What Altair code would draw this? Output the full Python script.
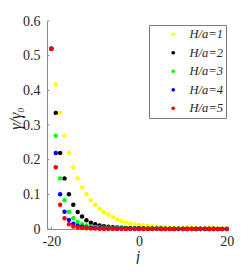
import altair as alt
import pandas as pd

j_values = list(range(-20, 21))
series_labels = ["H/a=1", "H/a=2", "H/a=3", "H/a=4", "H/a=5"]
series_colors = ["#ffff00", "#000000", "#00ff00", "#0000ff", "#ff0000"]

gamma_h1 = [0.520, 0.417, 0.335, 0.269, 0.219, 0.178, 0.146, 0.120, 0.100, 0.083,
            0.070, 0.058, 0.048, 0.041, 0.034, 0.028, 0.023, 0.019, 0.016, 0.0135,
            0.0116, 0.0100, 0.0088, 0.0078, 0.0069, 0.0061, 0.0055, 0.0049, 0.0044, 0.0040,
            0.0036, 0.0033, 0.0030, 0.0028, 0.0025, 0.0023, 0.0021, 0.0020, 0.0018, 0.0017,
            0.0016]
gamma_h2 = [0.520, 0.335, 0.219, 0.146, 0.100, 0.070, 0.049, 0.036, 0.025, 0.018,
            0.014, 0.010, 0.0080, 0.0065, 0.0053, 0.0044, 0.0037, 0.0031, 0.0027, 0.0023,
            0.0020, 0.0018, 0.0016, 0.0014, 0.0013, 0.0012, 0.0011, 0.0010, 0.0009, 0.0008,
            0.0008, 0.0007, 0.0007, 0.0006, 0.0006, 0.0005, 0.0005, 0.0005, 0.0004, 0.0004,
            0.0004]
gamma_h3 = [0.520, 0.269, 0.146, 0.083, 0.050, 0.031, 0.020, 0.014, 0.010, 0.0074,
            0.0057, 0.0045, 0.0036, 0.0030, 0.0025, 0.0021, 0.0018, 0.0016, 0.0014, 0.0012,
            0.0011, 0.0010, 0.0009, 0.0008, 0.0007, 0.0007, 0.0006, 0.0006, 0.0005, 0.0005,
            0.0004, 0.0004, 0.0004, 0.0003, 0.0003, 0.0003, 0.0003, 0.0003, 0.0002, 0.0002,
            0.0002]
gamma_h4 = [0.520, 0.219, 0.100, 0.050, 0.026, 0.015, 0.0095, 0.0065, 0.0047, 0.0035,
            0.0027, 0.0021, 0.0017, 0.0014, 0.0012, 0.0010, 0.0009, 0.0008, 0.0007, 0.0006,
            0.0005, 0.0005, 0.0004, 0.0004, 0.0004, 0.0003, 0.0003, 0.0003, 0.0003, 0.0002,
            0.0002, 0.0002, 0.0002, 0.0002, 0.0002, 0.0001, 0.0001, 0.0001, 0.0001, 0.0001,
            0.0001]
gamma_h5 = [0.520, 0.178, 0.070, 0.031, 0.014, 0.0075, 0.0045, 0.0030, 0.0021, 0.0015,
            0.0012, 0.0009, 0.0007, 0.0006, 0.0005, 0.0004, 0.0004, 0.0003, 0.0003, 0.0002,
            0.0002, 0.0002, 0.0002, 0.0001, 0.0001, 0.0001, 0.0001, 0.0001, 0.0001, 0.0001,
            0.0001, 0.0001, 0.0001, 0.0001, 0.0001, 0.0001, 0.0001, 0.0001, 0.0001, 0.0001,
            0.0001]

x_ticks = [-20, 0, 20]
y_ticks = [0, 0.1, 0.2, 0.3, 0.4, 0.5, 0.6]

rows = []
for label, vals in zip(series_labels, [gamma_h1, gamma_h2, gamma_h3, gamma_h4, gamma_h5]):
    for jj, g in zip(j_values, vals):
        rows.append({"j": jj, "gamma": g, "series": label})
df = pd.DataFrame(rows)

W, H = 181, 208
AXIS_GRAY = "#8a8a8a"
TEXT = "#262626"
SERIF = "Liberation Serif"

x_scale = alt.Scale(domain=[-21, 20.3], nice=False, zero=False)
y_scale = alt.Scale(domain=[0, 0.6], nice=False)

x_axis = alt.Axis(values=x_ticks, labelExpr="'' + datum.value", title="j",
                  tickSize=0, labelPadding=5, labelOverlap=False,
                  titleFontStyle="italic", titleFont=SERIF, titleFontSize=16,
                  titleFontWeight="normal", titleColor=TEXT,
                  titleBaseline="bottom", titleY=35)
y_axis = alt.Axis(tickCount=len(y_ticks), format=".1~f", title="γ/γ₀",
                  tickSize=0, labelPadding=7, labelOverlap=False, labelSeparation=0,
                  titleFontStyle="italic", titleFont=SERIF, titleFontSize=16,
                  titleFontWeight="normal", titleColor=TEXT,
                  titleX=-24, titleY=97)

points = alt.Chart(df).mark_circle(size=20, opacity=1).encode(
    x=alt.X("j:Q", scale=x_scale, axis=x_axis),
    y=alt.Y("gamma:Q", scale=y_scale, axis=y_axis),
    color=alt.Color("series:N",
                    scale=alt.Scale(domain=series_labels, range=series_colors),
                    legend=alt.Legend(title=None, orient="none", legendX=102, legendY=4,
                                      padding=3, symbolOffset=15, symbolSize=14,
                                      symbolType="circle", symbolStrokeWidth=0,
                                      labelFont=SERIF, labelFontStyle="italic",
                                      labelFontSize=12.5, labelColor=TEXT, labelOffset=10,
                                      rowPadding=5.5, strokeColor="#7a7a7a",
                                      fillColor="white", cornerRadius=0)),
)

df_yt = pd.DataFrame({"v": y_ticks})
df_xt = pd.DataFrame({"v": x_ticks})
yticks = alt.Chart(df_yt).mark_rule(color=AXIS_GRAY, strokeWidth=1).encode(
    y=alt.Y("v:Q", scale=y_scale, axis=y_axis), x=alt.value(0), x2=alt.value(2.5))
xticks = alt.Chart(df_xt).mark_rule(color=AXIS_GRAY, strokeWidth=1).encode(
    x=alt.X("v:Q", scale=x_scale, axis=x_axis), y=alt.value(H), y2=alt.value(H - 2.5))

chart = alt.layer(yticks, xticks, points).properties(
    width=W, height=H,
    autosize=alt.AutoSizeParams(type="none"),
    padding={"left": 39, "top": 13, "right": 13, "bottom": 35},
).configure_view(stroke=None).configure_axis(
    domainColor=AXIS_GRAY, domainWidth=1, grid=False,
    labelFont=SERIF, labelFontSize=14, labelColor=TEXT,
)

chart.save("out.html", embed_options={"renderer": "svg", "actions": False})
